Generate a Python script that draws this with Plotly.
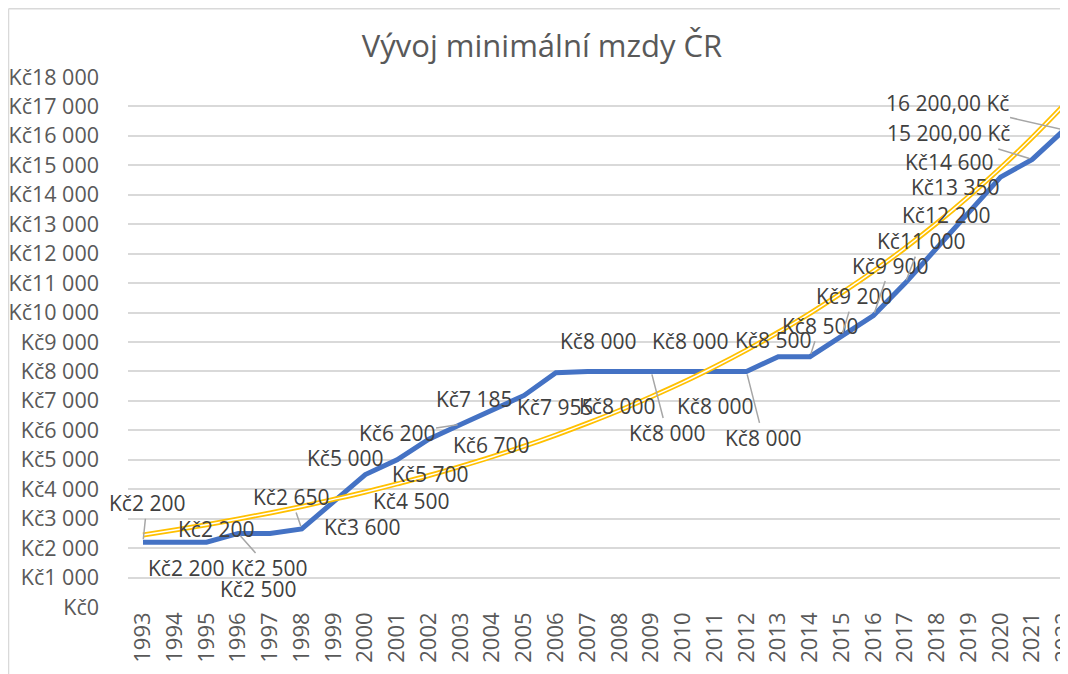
import plotly.graph_objects as go

# ------------------- Data -------------------
years = [str(y) for y in range(1993, 2023)]
min_wage = [2200, 2200, 2200, 2500, 2500, 2650, 3600, 4500, 5000, 5700,
            6200, 6700, 7185, 7955, 8000, 8000, 8000, 8000, 8000, 8000,
            8500, 8500, 9200, 9900, 11000, 12200, 13350, 14600, 15200, 16200]
# exponential trendline
trend = [2445, 2615, 2795, 2990, 3195, 3415, 3655, 3905, 4180, 4465,
         4775, 5105, 5460, 5840, 6245, 6675, 7140, 7630, 8160, 8725,
         9330, 9975, 10670, 11405, 12195, 13040, 13945, 14910, 15945, 17050]
labels = ["Kč2 200", "Kč2 200", "Kč2 200", "Kč2 500", "Kč2 500", "Kč2 650",
          "Kč3 600", "Kč4 500", "Kč5 000", "Kč5 700", "Kč6 200", "Kč6 700",
          "Kč7 185", "Kč7 955", "Kč8 000", "Kč8 000", "Kč8 000", "Kč8 000",
          "Kč8 000", "Kč8 000", "Kč8 500", "Kč8 500", "Kč9 200", "Kč9 900",
          "Kč11 000", "Kč12 200", "Kč13 350", "Kč14 600",
          "15 200,00 Kč", "16 200,00 Kč"]

# label offsets in px (dx, dy down) and whether Excel drew a leader line
label_pos = [(4, -39, True), (41, -13, False), (-21, 26, False), (31, 35, True),
             (-12, 56, False), (-11, -32, True), (28, 26, False), (46, 26, False),
             (-52, -2, False), (1, 35, False), (-64, 9, True), (-1, 35, False),
             (-50, 4, False), (-1, 34, False), (10, -30, False), (-2, 35, False),
             (16, 62, True), (7, -30, False), (0, 35, False), (17, 67, True),
             (-5, -17, False), (10, -31, True), (12, -40, True), (17, -50, True),
             (16, -42, True), (9, -33, False), (-14, -27, False), (-52, -15, False),
             (-84, -26, True), (-117, -27, True)]

# ------------------- Figure -------------------
fig = go.Figure()
fig.add_trace(go.Scatter(x=years, y=min_wage, mode="lines",
                         line=dict(color="#4472C4", width=5)))
fig.add_trace(go.Scatter(x=years, y=trend, mode="lines",
                         line=dict(color="#FFC000", width=5, shape="spline")))
fig.add_trace(go.Scatter(x=years, y=trend, mode="lines",
                         line=dict(color="white", width=1.5, shape="spline")))

# category axis -> annotations use the serial index of each year
for i, (val, txt, (dx, dy, leader)) in enumerate(zip(min_wage, labels, label_pos)):
    if leader:
        fig.add_annotation(x=i, y=val, text=txt, showarrow=True, arrowhead=0,
                           arrowcolor="#a6a6a6", arrowwidth=1.5, ax=dx, ay=dy,
                           standoff=3, font=dict(size=21, color="#404040"))
    else:
        fig.add_annotation(x=i, y=val, text=txt, showarrow=False,
                           xshift=dx, yshift=-dy,
                           font=dict(size=21, color="#404040"))

# chart area border (left and top edges)
fig.add_shape(type="line", xref="paper", yref="paper",
              x0=-0.1271, x1=-0.1271, y0=-0.2, y1=1.129,
              line=dict(color="#d9d9d9", width=1.5))
fig.add_shape(type="line", xref="paper", yref="paper",
              x0=-0.1271, x1=1.1, y0=1.129, y1=1.129,
              line=dict(color="#d9d9d9", width=1.5))

# page body has an 8px margin, so the figure is 8px smaller and shifted
fig.update_layout(
    width=1060, height=666,
    margin=dict(l=120, r=0, t=69, b=67),
    paper_bgcolor="white", plot_bgcolor="white",
    showlegend=False,
    separators=", ",
    font=dict(family="Open Sans", color="#595959"),
    title=dict(text="Vývoj minimální mzdy ČR", x=534 / 1060, xanchor="center",
               y=1 - 38 / 666, yanchor="middle", yref="container",
               font=dict(size=31, color="#595959")),
    xaxis=dict(type="category", range=[-0.472, 29.125], showgrid=False,
               tickangle=-90, tickfont=dict(size=22, color="#595959"),
               automargin=False, showline=False, ticks=""),
    yaxis=dict(range=[0, 18000], dtick=1000, tickprefix="Kč", tickformat=",d",
               gridcolor="#d9d9d9", gridwidth=1.5, zeroline=False,
               tickfont=dict(size=21.5, color="#595959"), ticklabelstandoff=28,
               automargin=False),
)

fig.write_html("out.html")
